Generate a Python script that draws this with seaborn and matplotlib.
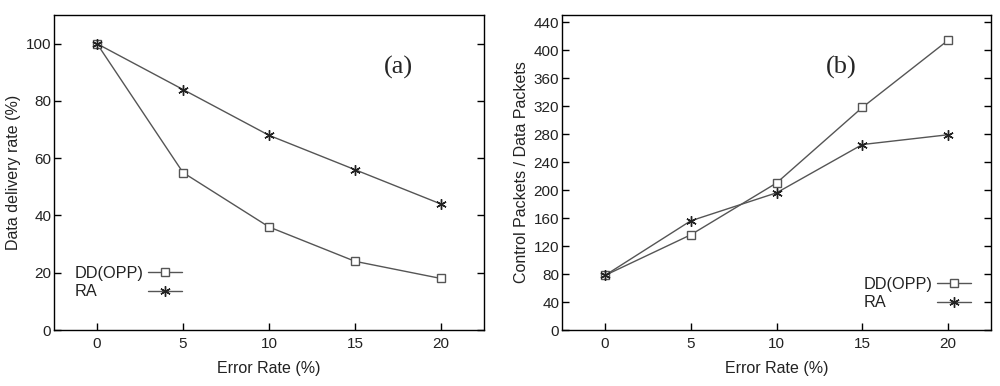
import matplotlib
matplotlib.use("Agg")
import matplotlib.pyplot as plt
import seaborn as sns
import pandas as pd

error_rate = [0, 5, 10, 15, 20]
delivery_dd = [100, 55, 36, 24, 18]
delivery_ra = [100, 84, 68, 56, 44]
overhead_dd = [78, 136, 210, 318, 414]
overhead_ra = [78, 156, 196, 265, 279]
series_names = ["DD(OPP)", "RA"]

sns.set_theme(style="ticks")
plt.rcParams['font.family'] = ['Liberation Sans', 'DejaVu Sans']

fig = plt.figure(figsize=(10, 3.86), dpi=100)
ax1 = fig.add_axes([0.054, 0.145, 0.430, 0.816])
ax2 = fig.add_axes([0.562, 0.145, 0.429, 0.816])

col = "#555555"
marker_list = ["s", (6, 2, 0)]
legend_fs = 11.7
hpad = 0.3

def draw(ax, dd, ra, ylim, yticks, ylabel, tag, tagx, legpos):
    for name, vals, mk in zip(series_names, [dd, ra], marker_list):
        df = pd.DataFrame({"x": error_rate, "y": vals})
        if mk == "s":
            kw = dict(markerfacecolor="white", markeredgecolor=col, markersize=5.5)
        else:
            kw = dict(markeredgecolor="#222222", markersize=7.5)
        sns.lineplot(data=df, x="x", y="y", color=col, marker=mk,
                     linewidth=1.0, markeredgewidth=1.0, label=name, ax=ax, **kw)
    ax.set_xlim(-2.5, 22.5)
    ax.set_ylim(*ylim)
    ax.set_xticks(error_rate)
    ax.set_yticks(yticks)
    ax.tick_params(direction="in", length=5, width=1, labelsize=11,
                   colors="black", left=True, right=True, top=False, bottom=True)
    ax.tick_params(axis="y", pad=2)
    ax.tick_params(axis="x", pad=5)
    ax.tick_params(axis="both", labelcolor="#222222")
    for sp in ax.spines.values():
        sp.set_visible(True)
        sp.set_color("black")
        sp.set_linewidth(1.0)
    ax.set_xlabel("Error Rate (%)", fontsize=11.5, labelpad=7, color="#222222")
    ax.set_ylabel(ylabel, fontsize=11.5, labelpad=3.5, color="#222222")
    ax.text(tagx, 0.835, tag, transform=ax.transAxes, fontsize=19,
            family="Liberation Serif", ha="center", va="center")
    h, l = ax.get_legend_handles_labels()
    leg = ax.legend(h, l, loc="upper left", bbox_to_anchor=legpos,
                    markerfirst=False, frameon=False,
                    fontsize=legend_fs, handlelength=2.1, handletextpad=hpad,
                    labelspacing=0.2, borderaxespad=0, borderpad=0)
    for t in leg.get_texts():
        t.set_color("#222222")
    return leg

leg1 = draw(ax1, delivery_dd, delivery_ra, (0, 110), [0, 20, 40, 60, 80, 100],
            "Data delivery rate (%)", "(a)", 0.80, (0.047, 0.203))
leg2 = draw(ax2, overhead_dd, overhead_ra, (0, 450), list(range(0, 441, 40)),
            "Control Packets / Data Packets", "(b)", 0.650, (0.702, 0.168))

# left-align legend labels while keeping the handles aligned (gnuplot style)
renderer = fig.canvas.get_renderer()
for leg in (leg1, leg2):
    widths = [t.get_window_extent(renderer).width * 72 / fig.dpi for t in leg.get_texts()]
    wmax = max(widths)
    column = leg._legend_handle_box.get_children()[0]
    column.align = "left"
    for row, w in zip(column.get_children(), widths):
        row.sep = (hpad * legend_fs) + (wmax - w)

fig.savefig("out.png", dpi=100)
